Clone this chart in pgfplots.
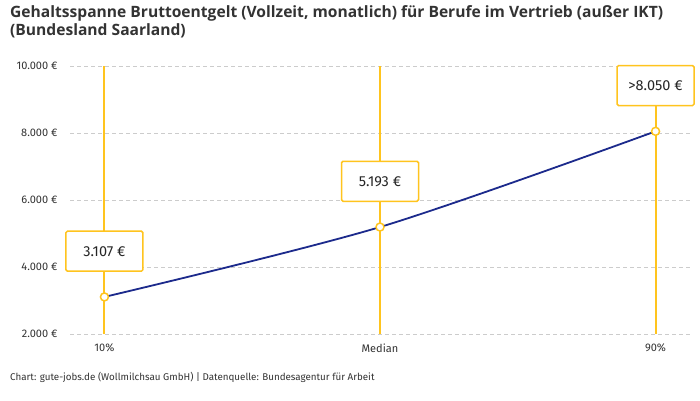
\documentclass[border=0pt]{standalone}
\usepackage{fontspec}
\setmainfont{Fira Sans}
\newfontfamily\titlefont{Open Sans}
\usepackage{pgfplots}
\pgfplotsset{compat=1.18}

\definecolor{gold}{RGB}{255,196,30}
\definecolor{navy}{RGB}{28,42,140}
\definecolor{txt}{RGB}{51,51,51}
\definecolor{gridc}{RGB}{204,204,204}

\begin{document}
\begin{tikzpicture}[x=1pt,y=1pt]
    \useasboundingbox[fill=white] (0,0) rectangle (700,400);

    \node[anchor=north west, align=left, inner sep=0, text=txt,
          font=\titlefont\fontsize{15.6}{18}\selectfont\bfseries] at (10,395)
        {Gehaltsspanne Bruttoentgelt (Vollzeit, monatlich) für Berufe im Vertrieb (außer IKT)\\(Bundesland Saarland)};

    \begin{axis}[
        at={(70pt,66pt)},
        anchor=south west,
        scale only axis,
        width=620pt,
        height=268pt,
        xmin=-0.125, xmax=2.125,
        ymin=2000, ymax=10000,
        clip=false,
        scaled y ticks=false,
        axis line style={draw=none},
        tick style={draw=none},
        xtick={0,1,2},
        xticklabels={10\%, Median, 90\%},
        ytick={2000,4000,6000,8000,10000},
        yticklabels={2.000 €, 4.000 €, 6.000 €, 8.000 €, 10.000 €},
        ymajorgrids,
        grid style={gridc, line width=0.8pt, dash pattern=on 4pt off 3pt},
        tick label style={font=\fontsize{11}{12}\selectfont, text=txt},
        yticklabel style={xshift=-9pt},
        xticklabel style={yshift=-6pt},
    ]

    \addplot[gold, line width=2pt] coordinates {(0,2000) (0,10000)};
    \addplot[gold, line width=2pt] coordinates {(1,2000) (1,10000)};
    \addplot[gold, line width=2pt] coordinates {(2,2000) (2,10000)};

    \addplot[navy, line width=1.8pt, smooth] coordinates {
        (0,3107) (1,5193) (2,8050)
    };

    \addplot[
        only marks,
        mark=*,
        mark size=4pt,
        mark options={fill=white, draw=gold, line width=1.5pt},
        point meta=explicit symbolic,
        nodes near coords,
        nodes near coords style={
            anchor=south, yshift=25pt,
            draw=gold, line width=1.5pt, fill=white, rounded corners=1.5pt,
            minimum width=77pt, minimum height=40pt,
            font=\fontsize{14.5}{16}\selectfont, text=black!85,
        },
    ] coordinates {
        (0,3107) [3.107 €]
        (1,5193) [5.193 €]
        (2,8050) [>8.050 €]
    };
    \end{axis}

    \node[anchor=west, inner sep=0, text=txt, font=\fontsize{9.8}{11}\selectfont]
        at (10,23) {Chart: gute-jobs.de (Wollmilchsau GmbH) | Datenquelle: Bundesagentur für Arbeit};
\end{tikzpicture}
\end{document}
